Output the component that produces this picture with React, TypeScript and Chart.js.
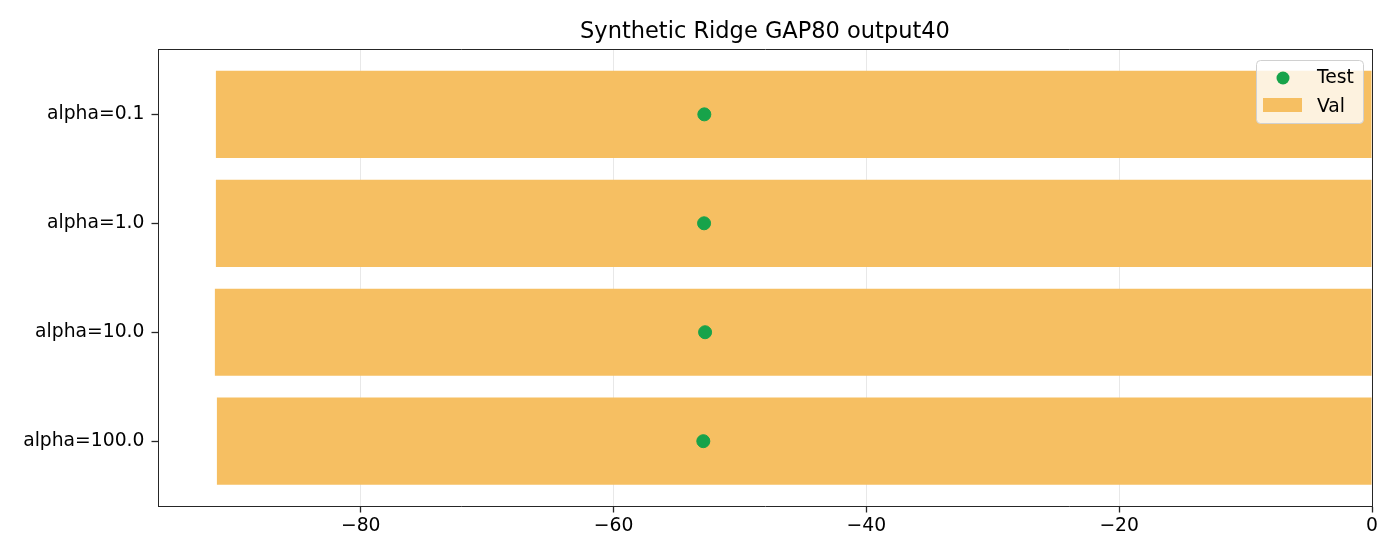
import { useEffect, useRef } from "react"
import { Chart, registerables } from "chart.js"

Chart.register(...registerables)

const categories = ["alpha=0.1", "alpha=1.0", "alpha=10.0", "alpha=100.0"]
const valScores = [-91.46, -91.46, -91.54, -91.38]
const testScores = [-52.82, -52.84, -52.76, -52.9]
const xTicks = [-80, -60, -40, -20, 0]

const FONT = "'DejaVu Sans', sans-serif"
const BAR_COLOR = "#f6bf62"
const DOT_COLOR = "#17a34a"

// title, top/right spines and the legend box, drawn the matplotlib way
const decorations = {
  id: "decorations",
  afterDraw(chart: Chart) {
    const { ctx, chartArea } = chart
    ctx.save()
    ctx.strokeStyle = "#262626"
    ctx.lineWidth = 1
    ctx.beginPath()
    ctx.moveTo(chartArea.left, chartArea.top + 0.5)
    ctx.lineTo(chartArea.right + 1, chartArea.top + 0.5)
    ctx.moveTo(chartArea.right + 0.5, chartArea.top)
    ctx.lineTo(chartArea.right + 0.5, chartArea.bottom)
    ctx.stroke()

    ctx.fillStyle = "#000"
    ctx.font = `22.5px ${FONT}`
    ctx.textAlign = "center"
    ctx.textBaseline = "alphabetic"
    ctx.fillText("Synthetic Ridge GAP80 output40", (chartArea.left + chartArea.right) / 2, 38)

    // legend
    const bx = 1256, by = 60, bw = 107, bh = 63, r = 4
    ctx.beginPath()
    ctx.roundRect(bx + 0.5, by + 0.5, bw, bh, r)
    ctx.fillStyle = "rgba(255,255,255,0.8)"
    ctx.fill()
    ctx.strokeStyle = "#d0d0d0"
    ctx.stroke()

    ctx.beginPath()
    ctx.arc(1283, 78, 6.5, 0, Math.PI * 2)
    ctx.fillStyle = DOT_COLOR
    ctx.fill()
    ctx.fillStyle = BAR_COLOR
    ctx.fillRect(1263, 98, 39, 14)

    ctx.fillStyle = "#000"
    ctx.font = `18.75px ${FONT}`
    ctx.textAlign = "left"
    ctx.fillText("Test", 1317, 83)
    ctx.fillText("Val", 1317, 112)
    ctx.restore()
  },
}

export default function App() {
  const canvasRef = useRef<HTMLCanvasElement>(null)
  const chartRef = useRef<Chart | null>(null)

  useEffect(() => {
    if (!canvasRef.current) return
    if (chartRef.current) chartRef.current.destroy()

    chartRef.current = new Chart(canvasRef.current, {
      type: "bar",
      data: {
        datasets: [
          {
            type: "scatter",
            label: "Test",
            data: testScores.map((v, i) => ({ x: v, y: i })),
            backgroundColor: DOT_COLOR,
            borderColor: DOT_COLOR,
            pointRadius: 6.5,
            order: 1,
          } as any,
          {
            type: "bar",
            label: "Val",
            data: valScores.map((v, i) => ({ x: v, y: i })),
            backgroundColor: BAR_COLOR,
            borderWidth: 0,
            barPercentage: 0.8,
            categoryPercentage: 1,
            order: 2,
          },
        ],
      },
      options: {
        indexAxis: "y",
        animation: false,
        responsive: false,
        devicePixelRatio: 1,
        layout: { padding: { top: 49, right: 28, left: 0, bottom: 0 } },
        plugins: { legend: { display: false }, tooltip: { enabled: false } },
        scales: {
          x: {
            type: "linear",
            min: -96.04,
            max: 0,
            offset: false,
            afterBuildTicks: (s: any) => {
              s.ticks = xTicks.map((v) => ({ value: v }))
            },
            afterFit: (s: any) => {
              s.height = 54
            },
            ticks: {
              color: "#000",
              font: { family: FONT, size: 18.75 },
              padding: 2,
              maxRotation: 0,
              callback: (v: any) => String(v).replace("-", "\u2212"),
            },
            grid: { color: "#e8e8e8", tickColor: "#262626", tickLength: 6.5, tickWidth: 1.3, lineWidth: 1, offset: false },
            border: { color: "#262626", width: 1 },
          },
          y: {
            type: "linear",
            reverse: true,
            min: -0.6,
            max: 3.595,
            offset: false,
            afterBuildTicks: (s: any) => {
              s.ticks = categories.map((_, i) => ({ value: i }))
            },
            afterFit: (s: any) => {
              s.width = 158
            },
            ticks: {
              color: "#000",
              font: { family: FONT, size: 18.75 },
              padding: 7,
              callback: (v: any) => categories[v] ?? "",
            },
            grid: { drawOnChartArea: false, tickColor: "#262626", tickLength: 6.5, tickWidth: 1.3, offset: false },
            border: { color: "#262626", width: 1 },
          },
        },
      },
      plugins: [decorations],
    })

    return () => {
      if (chartRef.current) {
        chartRef.current.destroy()
        chartRef.current = null
      }
    }
  }, [])

  return (
    <div style={{ position: "fixed", left: 0, top: 0, width: 1400, height: 560, background: "#fff" }}>
      <canvas ref={canvasRef} width={1400} height={560}></canvas>
    </div>
  )
}
